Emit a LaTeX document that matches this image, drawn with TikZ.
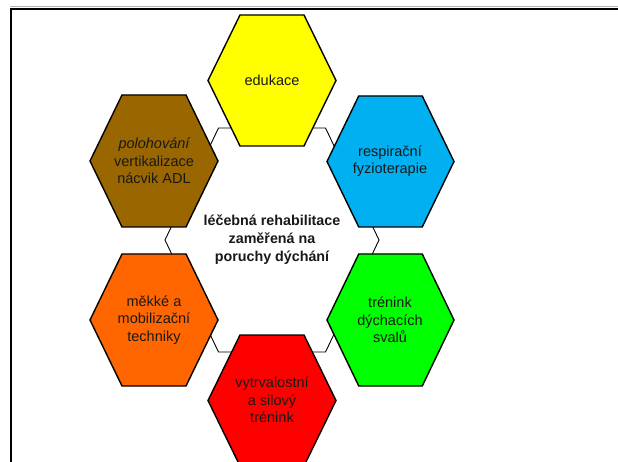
\documentclass[tikz,border=0pt]{standalone}
\usepackage{fontspec}
\setmainfont{Liberation Sans}
\definecolor{hexyellow}{HTML}{FFFF00}
\definecolor{hexbrown}{HTML}{996600}
\definecolor{hexblue}{HTML}{00B0F0}
\definecolor{hexorange}{HTML}{FF6600}
\definecolor{hexgreen}{HTML}{00FF00}
\definecolor{hexred}{HTML}{FF0000}
% flat-topped hexagon: centre (#1,#2), half-width #3, half-height #4
\newcommand\hexoutline[4]{%
  (#1-#3,#2) -- (#1-#3/2,#2-#4) -- (#1+#3/2,#2-#4) --
  (#1+#3,#2) -- (#1+#3/2,#2+#4) -- (#1-#3/2,#2+#4) -- cycle}
\tikzset{
  hexcell/.style={draw=black, line width=1.4bp, line join=miter},
  hexcore/.style={draw=black, line width=0.9bp, fill=white},
  celltext/.style={align=center, font=\fontsize{14.5bp}{17.6bp}\selectfont,
    inner sep=0pt, text=black!90},
  coretext/.style={celltext, font=\fontsize{14.3bp}{18bp}\selectfont\bfseries}
}
\begin{document}
\begin{tikzpicture}[x=1bp, y=-1bp]
  \useasboundingbox (0,0) rectangle (618,462);
  \fill[white] (0,0) rectangle (618,462);
  % frame
  \draw[gray!60, line width=1bp] (10,7) -- (618,7);
  \draw[black, line width=2bp] (11,470) -- (11,9) -- (630,9);
  % central hexagon
  \path[hexcore] \hexoutline{272}{240}{107}{112};
  % surrounding hexagons
  \path[hexcell, fill=hexyellow] \hexoutline{272}{80.5}{64}{65.5};
  \path[hexcell, fill=hexbrown]  \hexoutline{154}{161}{64}{66};
  \path[hexcell, fill=hexblue]   \hexoutline{390.5}{161.5}{63.5}{65.5};
  \path[hexcell, fill=hexorange] \hexoutline{154}{320}{64}{66};
  \path[hexcell, fill=hexgreen]  \hexoutline{390.5}{320}{63.5}{66};
  \path[hexcell, fill=hexred]    \hexoutline{272}{400.5}{64}{65.5};
  % labels
  \node[coretext] (core) at (272,240) {léčebná rehabilitace\\zaměřená na\\poruchy dýchání};
  \node[celltext] (edu) at (272,80) {edukace};
  \node[celltext] (pol) at (154,161) {\itshape polohování\\vertikalizace\\nácvik ADL};
  \node[celltext] (resp) at (390,161) {respirační\\fyzioterapie};
  \node[celltext] (mek) at (154,320) {měkké a\\mobilizační\\techniky};
  \node[celltext] (tren) at (390,320) {trénink\\dýchacích\\svalů};
  \node[celltext] (vytr) at (272,400) {vytrvalostní\\a silový\\trénink};
\end{tikzpicture}
\end{document}
